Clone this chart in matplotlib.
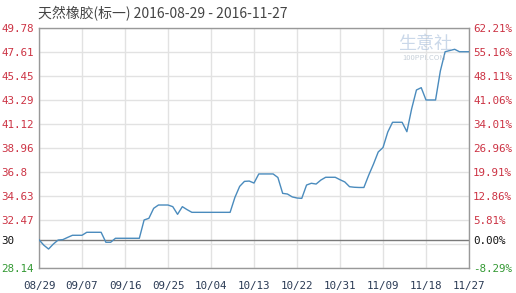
import matplotlib
matplotlib.use("Agg")
import matplotlib.pyplot as plt
import numpy as np
import pandas as pd

plt.rcParams['font.family'] = ['Noto Sans CJK SC', 'DejaVu Sans']

title = "天然橡胶(标一) 2016-08-29 - 2016-11-27"
start_date = "2016-08-29"
end_date = "2016-11-27"
values = [30.69, 30.20, 29.85, 30.30, 30.66, 30.70, 30.90, 31.09, 31.09, 31.09,
          31.36, 31.36, 31.36, 31.36, 30.46, 30.46, 30.82, 30.82, 30.82, 30.82,
          30.82, 30.82, 32.47, 32.62, 33.52, 33.82, 33.82, 33.82, 33.67, 32.98,
          33.67, 33.40, 33.16, 33.16, 33.16, 33.16, 33.16, 33.16, 33.16, 33.16,
          33.16, 34.50, 35.50, 35.95, 35.98, 35.80, 36.62, 36.62, 36.62, 36.62,
          36.30, 34.87, 34.81, 34.55, 34.45, 34.42, 35.62, 35.78, 35.71, 36.07,
          36.32, 36.32, 36.32, 36.10, 35.90, 35.47, 35.42, 35.40, 35.40, 36.50,
          37.50, 38.60, 39.00, 40.40, 41.28, 41.28, 41.28, 40.43, 42.50, 44.19,
          44.40, 43.29, 43.29, 43.29, 45.90, 47.64, 47.75, 47.86, 47.64, 47.64,
          47.64]
base_value = 30.685
grid_levels = [28.14, 30.30, 32.47, 34.63, 36.80, 38.96, 41.12, 43.29, 45.45, 47.61, 49.78]
left_tick_vals = [28.14, 30.685, 32.47, 34.63, 36.80, 38.96, 41.12, 43.29, 45.45, 47.61, 49.78]
left_tick_labels = ["28.14", "30", "32.47", "34.63", "36.8", "38.96", "41.12", "43.29", "45.45", "47.61", "49.78"]
right_tick_labels = ["-8.29%", "0.00%", "5.81%", "12.86%", "19.91%", "26.96%", "34.01%", "41.06%", "48.11%", "55.16%", "62.21%"]
x_tick_labels = ["08/29", "09/07", "09/16", "09/25", "10/04", "10/13", "10/22", "10/31", "11/09", "11/18", "11/27"]

dates = pd.date_range(start_date, end_date, freq="D")
x = (dates - dates[0]).days.values

W, H = 516, 293
fig = plt.figure(figsize=(W / 100, H / 100), dpi=100)
ax = fig.add_axes([39 / W, 1 - 268 / H, 430 / W, 240 / H])

ax.set_xlim(0, 90)
ax.set_ylim(28.14, 49.78)

for g in grid_levels:
    ax.axhline(g, color="#e2e2e2", lw=1.0, zorder=1)
xt = np.arange(0, 91, 9)
for t in xt:
    ax.axvline(t, color="#e2e2e2", lw=1.0, zorder=1)
ax.axhline(base_value, color="#7a7a7a", lw=1.0, zorder=2)

ax.plot(x, values, color="#4a8bbd", lw=1.0, zorder=3)

for s in ax.spines.values():
    s.set_color("#999999")
    s.set_linewidth(1.0)

mono = "DejaVu Sans Mono"
ax.set_xticks(xt)
ax.set_xticklabels(x_tick_labels, fontsize=7.8, family=mono, color="#2b3b55")
ax.set_yticks(left_tick_vals)
ax.set_yticklabels(left_tick_labels, fontsize=7.8, family=mono, ha="left")
ax.tick_params(axis='y', length=0, pad=27)
ax.tick_params(axis='x', length=0, pad=9)
for i, lab in enumerate(ax.get_yticklabels()):
    lab.set_color("#339933" if i == 0 else ("#111111" if i == 1 else "#cc3344"))

ax2 = ax.twinx()
ax2.set_ylim(28.14, 49.78)
ax2.set_yticks(left_tick_vals)
ax2.set_yticklabels(right_tick_labels, fontsize=7.8, family=mono)
ax2.tick_params(length=0, pad=3)
for i, lab in enumerate(ax2.get_yticklabels()):
    lab.set_color("#339933" if i == 0 else ("#111111" if i == 1 else "#cc3344"))
for s in ax2.spines.values():
    s.set_visible(False)

fig.text(38 / W, 1 - 14 / H, title, fontsize=10, color="#444444", va="center", ha="left")

# watermark
fig.text(398 / W, 1 - 44 / H, "生意社", fontsize=13, color="#9fb8d8", alpha=0.55, va="center", ha="left")
fig.text(402 / W, 1 - 58 / H, "100PPI.COM", fontsize=5.5, color="#9aaabb", alpha=0.55, va="center", ha="left")

fig.savefig("out.png", dpi=100)
